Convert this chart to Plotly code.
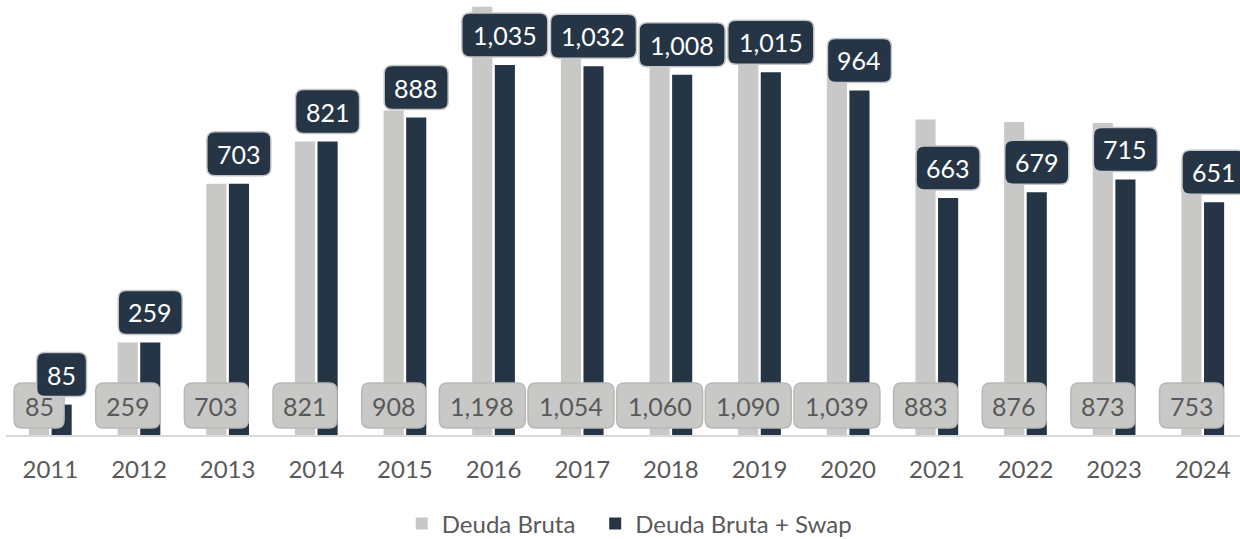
import plotly.graph_objects as go

years = ["2011", "2012", "2013", "2014", "2015", "2016", "2017", "2018", "2019", "2020", "2021", "2022", "2023", "2024"]
deuda_bruta = [85, 259, 703, 821, 908, 1198, 1054, 1060, 1090, 1039, 883, 876, 873, 753]
deuda_swap = [85, 259, 703, 821, 888, 1035, 1032, 1008, 1015, 964, 663, 679, 715, 651]

GRAY = "#c8c9c6"
DARK = "#253545"
TXT = "#595959"
FONT = "Lato"
FS = 25
OFF = 11.25  # px offset of each bar centre from category centre


def fmt(v):
    return f"{v:,}"


def box_w(s):
    d = sum(c.isdigit() for c in s)
    k = s.count(",")
    return 14 * d + 8 * k + 22


def rrect(x0, x1, y0, y1, r=8):
    return (f"M{x0+r},{y0} L{x1-r},{y0} Q{x1},{y0} {x1},{y0+r} L{x1},{y1-r} Q{x1},{y1} {x1-r},{y1} "
            f"L{x0+r},{y1} Q{x0},{y1} {x0},{y1-r} L{x0},{y0+r} Q{x0},{y0} {x0+r},{y0} Z")


fig = go.Figure()
fig.add_bar(x=list(range(len(years))), y=deuda_bruta, name="Deuda Bruta", marker_color=GRAY,
            marker_line_width=0, legend="legend")
fig.add_bar(x=list(range(len(years))), y=deuda_swap, name="Deuda Bruta + Swap", marker_color=DARK,
            marker_line_width=0, legend="legend2")

shapes = []
annotations = []
for i, (g, d) in enumerate(zip(deuda_bruta, deuda_swap)):
    # gray label at the base
    s = fmt(g)
    w = box_w(s)
    shapes.append(dict(type="path", xref="x", yref="y", xsizemode="pixel", ysizemode="pixel",
                       xanchor=i, yanchor=0, layer="above",
                       path=rrect(-OFF - w / 2, -OFF + w / 2, 7, 52),
                       fillcolor=GRAY, line=dict(color="#b8b8b6", width=1.5)))
    annotations.append(dict(x=i, y=0, xref="x", yref="y", text=s, showarrow=False,
                            xshift=-OFF, yshift=29.5, yanchor="middle", xanchor="center",
                            font=dict(family=FONT, size=FS, color=TXT)))
    # dark label above bar
    s = fmt(d)
    w = box_w(s)
    shapes.append(dict(type="path", xref="x", yref="y", xsizemode="pixel", ysizemode="pixel",
                       xanchor=i, yanchor=d, layer="above",
                       path=rrect(OFF - w / 2, OFF + w / 2, 8, 52),
                       fillcolor=DARK, line=dict(color="#c4c6c8", width=1.5)))
    annotations.append(dict(x=i, y=d, xref="x", yref="y", text=s, showarrow=False,
                            xshift=OFF, yshift=30, yanchor="middle", xanchor="center",
                            font=dict(family=FONT, size=FS, color="white")))

leg_common = dict(orientation="h", xanchor="left", xref="container", yref="container",
                  y=0.028, yanchor="middle", font=dict(family=FONT, size=24, color=TXT),
                  itemwidth=30, bgcolor="rgba(0,0,0,0)")

fig.update_layout(
    width=1240, height=539,
    margin=dict(l=6, r=0, t=0, b=104, autoexpand=False),
    paper_bgcolor="white", plot_bgcolor="white",
    barmode="group", bargap=0.49, bargroupgap=0.11,
    shapes=shapes, annotations=annotations,
    showlegend=True,
    legend=dict(x=0.324, **leg_common),
    legend2=dict(x=0.480, **leg_common),
    xaxis=dict(range=[-0.5, 13.42], tickmode="array", tickvals=list(range(len(years))), ticktext=years,
               showline=True, linecolor="#d9d9d9", linewidth=2, ticks="outside", ticklen=12,
               tickcolor="rgba(0,0,0,0)", tickfont=dict(family=FONT, size=24, color=TXT),
               showgrid=False, zeroline=False, fixedrange=True),
    yaxis=dict(range=[0, 1217], visible=False, showgrid=False, zeroline=False, fixedrange=True),
)

fig.write_html("out.html", config={"displayModeBar": False},
               post_script="document.body.style.margin='0';document.body.style.overflow='hidden';")
